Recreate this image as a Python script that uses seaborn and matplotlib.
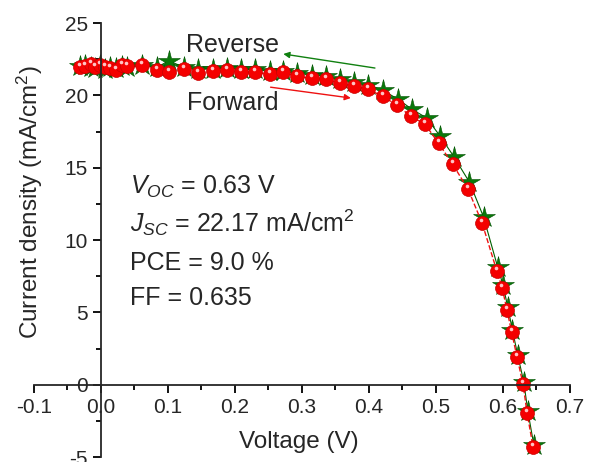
import matplotlib
matplotlib.use("Agg")
import matplotlib.pyplot as plt
import matplotlib.transforms as mtransforms
from matplotlib.ticker import MultipleLocator
import numpy as np
import pandas as pd
import seaborn as sns

# forward scan (red spheres)
fwd_v = [-0.031, -0.024, -0.015, -0.009, -0.001, 0.006, 0.013, 0.022, 0.031, 0.039,
         0.061, 0.084, 0.101, 0.124, 0.145, 0.167, 0.188, 0.209, 0.230, 0.252,
         0.272, 0.293, 0.315, 0.336, 0.357, 0.378, 0.399, 0.421, 0.442, 0.463,
         0.484, 0.504, 0.525, 0.548, 0.569, 0.591, 0.599, 0.606, 0.613, 0.621,
         0.630, 0.636, 0.645]
fwd_j = [21.96, 22.01, 22.15, 21.96, 22.08, 21.96, 21.92, 21.78, 22.08, 22.01,
         22.08, 21.78, 21.62, 21.85, 21.58, 21.69, 21.73, 21.62, 21.62, 21.46,
         21.60, 21.32, 21.18, 21.11, 20.84, 20.63, 20.42, 19.94, 19.31, 18.55,
         18.00, 16.69, 15.24, 13.51, 11.16, 7.84, 6.67, 5.15, 3.63, 1.90,
         0.03, -1.97, -4.32]

# reverse scan (green stars)
rev_v = [-0.031, -0.024, -0.015, -0.009, -0.001, 0.006, 0.013, 0.022, 0.031, 0.039,
         0.061, 0.084, 0.101, 0.124, 0.145, 0.167, 0.188, 0.209, 0.230, 0.252,
         0.272, 0.293, 0.315, 0.336, 0.357, 0.378, 0.399, 0.421, 0.443, 0.464,
         0.486, 0.506, 0.527, 0.550, 0.571, 0.592, 0.600, 0.607, 0.614, 0.622,
         0.631, 0.637, 0.646]
rev_j = [22.05, 22.10, 22.00, 21.90, 22.10, 21.85, 22.00, 21.90, 22.05, 21.95,
         22.10, 21.95, 22.40, 21.95, 21.80, 21.85, 21.90, 21.80, 21.80, 21.70,
         21.70, 21.55, 21.45, 21.35, 21.15, 20.95, 20.75, 20.35, 19.75, 19.05,
         18.45, 17.20, 15.75, 14.00, 11.60, 8.15, 6.90, 5.40, 3.80, 2.05,
         0.20, -1.80, -4.15]

stats = [r"$V_{OC}$ = 0.63 V", r"$J_{SC}$ = 22.17 mA/cm$^2$", "PCE = 9.0 %", "FF = 0.635"]
stat_y = [13.17, 10.6, 7.91, 5.49]

sns.set_style("ticks")
plt.rcParams["font.family"] = ["Liberation Sans", "DejaVu Sans"]
plt.rcParams["mathtext.fontset"] = "custom"
plt.rcParams["mathtext.rm"] = "Liberation Sans"
plt.rcParams["mathtext.it"] = "Liberation Sans:italic"

fwd = pd.DataFrame({"v": fwd_v, "j": fwd_j})
rev = pd.DataFrame({"v": rev_v, "j": rev_j})

fig = plt.figure(figsize=(5.89, 4.62), dpi=100)
ax = fig.add_axes([0.0577, 0.0108, 0.910, 0.939])

sns.lineplot(data=rev, x="v", y="j", sort=False, estimator=None, ax=ax,
             color="#006000", linewidth=0.8, marker="*", markersize=16,
             markerfacecolor="#0a780a", markeredgecolor="#005000", markeredgewidth=0.4)
sns.lineplot(data=fwd, x="v", y="j", sort=False, estimator=None, ax=ax,
             color="#ee1111", linewidth=1.0, linestyle="--", marker="o", markersize=10,
             markerfacecolor="#f40000", markeredgecolor="#c80000", markeredgewidth=0.5)
# specular highlight on the spheres
hl = mtransforms.offset_copy(ax.transData, fig=fig, x=-0.8, y=2.2, units="points")
ax.plot(fwd["v"], fwd["j"], linestyle="none", marker="o", markersize=2.6,
        markerfacecolor="#ffc4c4", markeredgewidth=0, transform=hl)

ax.set_xlim(-0.1, 0.7)
ax.set_ylim(-5, 25)
ax.spines["left"].set_position(("data", 0))
ax.spines["bottom"].set_position(("data", 0))
ax.spines["top"].set_visible(False)
ax.spines["right"].set_visible(False)
for s in ("left", "bottom"):
    ax.spines[s].set_linewidth(1.3)
ax.xaxis.set_major_locator(MultipleLocator(0.1))
ax.xaxis.set_minor_locator(MultipleLocator(0.05))
ax.yaxis.set_major_locator(MultipleLocator(5))
ax.yaxis.set_minor_locator(MultipleLocator(2.5))
ax.tick_params(which="major", direction="out", length=6, width=1.3, labelsize=15, color="black")
ax.tick_params(which="minor", direction="out", length=3.5, width=1.3, color="black")
ax.xaxis.set_major_formatter(plt.FuncFormatter(lambda x, p: f"{x:.1f}"))
ax.yaxis.set_major_formatter(plt.FuncFormatter(lambda y, p: f"{y:.0f}"))

ax.set_xlabel("Voltage (V)", fontsize=17.5, va="center")
ax.set_ylabel("Current density (mA/cm$^2$)", fontsize=17.5, va="center")
ax.xaxis.set_label_coords(0.494, 0.035)
ax.yaxis.set_label_coords(-0.0084, 0.588)

ax.text(0.197, 23.46, "Reverse", fontsize=18, ha="center", va="center")
ax.text(0.197, 19.49, "Forward", fontsize=18, ha="center", va="center")
ax.annotate("", xy=(0.268, 22.9), xytext=(0.413, 21.87),
            arrowprops=dict(arrowstyle="-|>", color="#108010", lw=1.0, mutation_scale=9))
ax.annotate("", xy=(0.377, 19.8), xytext=(0.249, 20.6),
            arrowprops=dict(arrowstyle="-|>", color="#ee1111", lw=1.0, mutation_scale=9))

for s, y in zip(stats, stat_y):
    ax.text(0.043, y, s, fontsize=18, ha="left", va="baseline")

fig.savefig("out.png", dpi=100)
